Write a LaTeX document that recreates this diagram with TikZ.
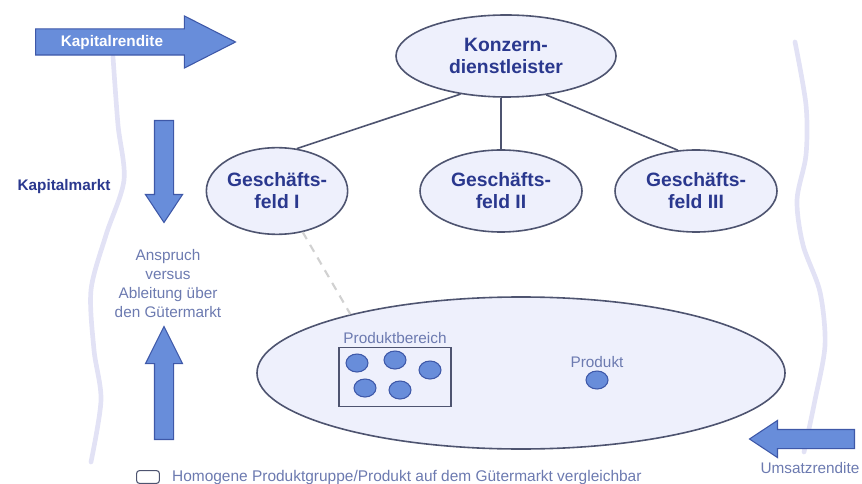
\documentclass[tikz,border=0pt]{standalone}
\usepackage{fontspec}
\setmainfont{Liberation Sans}
\usepackage{tikz}
\usetikzlibrary{shapes.geometric, shapes.arrows, positioning}
\definecolor{arrowblue}{RGB}{104,141,218}
\definecolor{arrowedge}{RGB}{62,88,168}
\definecolor{lavender}{RGB}{238,240,252}
\definecolor{rimgray}{RGB}{78,84,112}
\definecolor{inkblue}{RGB}{42,56,142}
\definecolor{softblue}{RGB}{108,122,176}
\definecolor{wavecolor}{RGB}{226,226,245}
\tikzstyle{unit} = [ellipse, draw=rimgray, fill=lavender, line width=1.2pt, align=center, inner sep=0pt, text=inkblue, font=\fontsize{14.5}{16.5}\selectfont\bfseries]
\tikzstyle{bigarrow} = [single arrow, draw=arrowedge, fill=arrowblue, line width=0.8pt, single arrow head indent=0pt, inner sep=6.75pt]
\tikzstyle{item} = [ellipse, draw=arrowedge, fill=arrowblue, line width=0.8pt, minimum width=16.5pt, minimum height=13.5pt, inner sep=0pt]
\tikzstyle{note} = [align=center, inner sep=1pt, text=softblue, font=\fontsize{11.5}{14.25}\selectfont]
\tikzstyle{link} = [draw=rimgray, line width=1.2pt]
\tikzstyle{marketline} = [draw=wavecolor, line width=3.5pt, line cap=round]

\begin{document}
\begin{tikzpicture}[x=0.75pt, y=-0.75pt]
\useasboundingbox (0,0) rectangle (862,484);

% market borders
\draw[marketline] plot[smooth] coordinates {(113,57) (118,125) (124,180) (106,235) (91,290) (94,350) (101,400) (91,462)};
\draw[marketline] plot[smooth] coordinates {(795,42) (806,105) (806,155) (797,200) (803,245) (820,292) (825,345) (815,400) (804,452)};

% returns
\node (rendite) [bigarrow, shape border rotate=0, inner sep=9.375pt, minimum height=150pt, minimum width=38.25pt, single arrow head extend=9.75pt, single arrow tip angle=54, anchor=tail] at (35,42) {};
\node (renditelabel) [text=white, font=\fontsize{11.5}{14}\selectfont\bfseries] at (112,43) {Kapitalrendite};
\node (umsatz) [bigarrow, shape border rotate=180, minimum height=78.75pt, minimum width=27pt, single arrow head extend=6.75pt, single arrow tip angle=67, anchor=tail] at (855,439) {};
\node (umsatzlabel) [note] at (810,468) {Umsatzrendite};

\node (kapitalmarkt) [text=inkblue, font=\fontsize{11.5}{14}\selectfont\bfseries] at (64,187) {Kapitalmarkt};
\node (down) [bigarrow, shape border rotate=270, minimum height=76.5pt, minimum width=27pt, single arrow head extend=6.75pt, single arrow tip angle=67, anchor=tail] at (164,120) {};
\node (up) [bigarrow, shape border rotate=90, minimum height=84.75pt, minimum width=27pt, single arrow head extend=6.75pt, single arrow tip angle=53, anchor=tail] at (164,440) {};
\node (anspruch) [note] at (168,284) {Anspruch\\versus\\Ableitung über\\den Gütermarkt};

% group structure
\node (konzern) [unit, minimum width=165pt, minimum height=61.5pt] at (506,56) {Konzern-\\dienstleister};
\node (gf1) [unit, minimum width=105pt, minimum height=65pt] at (277,191) {Geschäfts-\\feld I};
\node (gf2) [unit, minimum width=121.5pt, minimum height=61.5pt] at (501,191) {Geschäfts-\\feld II};
\node (gf3) [unit, minimum width=121.5pt, minimum height=61.5pt] at (696,191) {Geschäfts-\\feld III};

\draw[link] (konzern.220) -- (gf1.65);
\draw[link] (konzern.south -| gf2.north) -- (gf2.north);
\draw[link] (konzern.316) -- (gf3.114);

% goods market
\node (market) [ellipse, draw=rimgray, fill=lavender, line width=1.2pt, minimum width=396pt, minimum height=114pt] at (521,373) {};
\draw[draw=black!18, line width=1.6pt, dash pattern=on 6pt off 5pt] (gf1.302) -- (market.161);

\node (bereich) [draw=rimgray, line width=1.1pt, minimum width=84pt, minimum height=44pt] at (395,377) {};
\node (bereichlabel) [note, above=1pt of bereich] {Produktbereich};
\foreach \px/\py [count=\i] in {357/363, 395/360, 430/370, 365/388, 400/390}
  \node (item\i) [item] at (\px,\py) {};
\node (produkt) [item] at (597,380) {};
\node (produktlabel) [note, above=1pt of produkt] {Produkt};

% legend
\node (legendbox) [draw=rimgray, line width=0.8pt, rounded corners=2pt, minimum width=17pt, minimum height=9.5pt, inner sep=0pt] at (148,477) {};
\node (legendtext) [note, right=8pt of legendbox, font=\fontsize{11.6}{13}\selectfont] {Homogene Produktgruppe/Produkt auf dem Gütermarkt vergleichbar};

\end{tikzpicture}
\end{document}
